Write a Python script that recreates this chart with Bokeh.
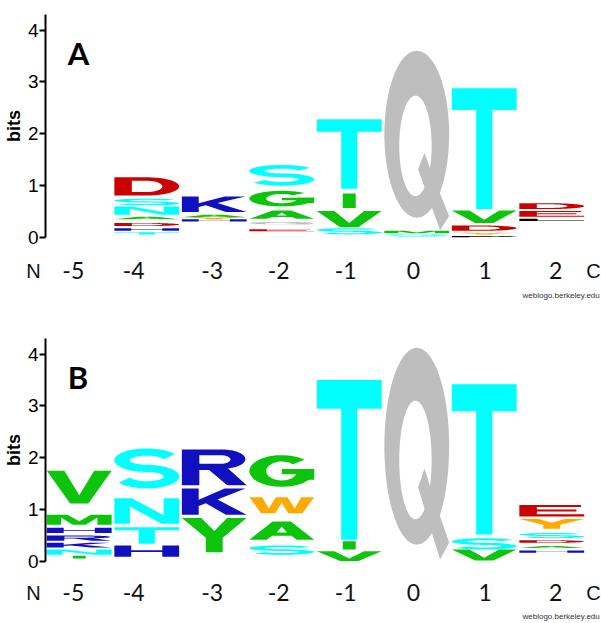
import numpy as np
from bokeh.plotting import figure
from bokeh.models import Range1d, FixedTicker, Label, ColumnDataSource
from bokeh.layouts import column
from bokeh.embed import file_html
from bokeh.resources import INLINE

# ---------------------------------------------------------------- data
positions = [-5, -4, -3, -2, -1, 0, 1, 2]
position_labels = ["-5", "-4", "-3", "-2", "-1", "0", "1", "2"]

# Each stack lists (residue, bits) from the bottom up; "" is the share of
# residues too small to be drawn.
stacks_a = [
    [],
    [("", 0.06), ("T", 0.04), ("", 0.03), ("H", 0.05), ("", 0.04), ("D", 0.06),
     ("", 0.07), ("A", 0.05), ("", 0.04), ("N", 0.16), ("", 0.02), ("S", 0.13),
     ("", 0.06), ("D", 0.35)],
    [("", 0.31), ("H", 0.04), ("Y", 0.04), ("A", 0.05), ("", 0.05), ("K", 0.30)],
    [("", 0.12), ("E", 0.04), ("", 0.09), ("Q", 0.05), ("", 0.06), ("A", 0.16),
     ("", 0.08), ("G", 0.30), ("", 0.10), ("S", 0.40)],
    [("", 0.06), ("S", 0.12), ("", 0.02), ("V", 0.31), ("", 0.06), ("I", 0.28),
     ("", 0.09), ("T", 1.34)],
    [("", 0.02), ("S", 0.04), ("", 0.02), ("M", 0.05), ("", 0.01), ("Q", 3.46)],
    [("P", 0.03), ("", 0.03), ("Y", 0.03), ("", 0.04), ("D", 0.10), ("", 0.05),
     ("V", 0.24), ("", 0.03), ("T", 2.33)],
    [("", 0.32), ("L", 0.04), ("", 0.04), ("E", 0.11), ("", 0.04), ("D", 0.11)],
]

stacks_b = [
    [("", 0.06), ("I", 0.05), ("", 0.02), ("N", 0.10), ("", 0.04), ("K", 0.09),
     ("", 0.04), ("R", 0.10), ("", 0.05), ("H", 0.10), ("", 0.06), ("M", 0.19),
     ("", 0.22), ("V", 0.63)],
    [("", 0.09), ("H", 0.22), ("", 0.03), ("T", 0.32), ("", 0.07), ("N", 0.49),
     ("", 0.19), ("S", 0.77)],
    [("", 0.18), ("Y", 0.66), ("", 0.06), ("K", 0.51), ("", 0.06), ("R", 0.69)],
    [("", 0.13), ("S", 0.18), ("", 0.11), ("A", 0.35), ("", 0.16), ("W", 0.31),
     ("", 0.20), ("G", 0.61)],
    [("", 0.01), ("V", 0.19), ("", 0.03), ("I", 0.16), ("", 0.03), ("T", 3.08)],
    [("", 0.04), ("Q", 4.08)],
    [("", 0.02), ("V", 0.21), ("S", 0.22), ("", 0.07), ("T", 2.90)],
    [("", 0.17), ("H", 0.04), ("", 0.05), ("A", 0.04), ("", 0.06), ("D", 0.05),
     ("", 0.04), ("S", 0.10), ("", 0.08), ("Y", 0.19), ("", 0.05), ("E", 0.22)],
]

# ---------------------------------------------------------------- colours
CYAN, GREEN, RED, BLUE = "#00FFFF", "#0CC40C", "#CC0000", "#1010C0"
GREY, ORANGE, BLACK = "#BEBEBE", "#FFAA00", "#000000"
COLORS = {
    "T": CYAN, "S": CYAN, "N": CYAN,
    "V": GREEN, "G": GREEN, "A": GREEN, "I": GREEN, "M": GREEN,
    "D": RED, "E": RED,
    "K": BLUE, "R": BLUE, "H": BLUE,
    "Q": GREY, "W": ORANGE, "Y": ORANGE, "P": BLACK, "L": BLACK,
}
PANEL_B_OVERRIDES = {(-3, "Y"): GREEN}


# ---------------------------------------------------------------- glyph outlines
# Every letter is a list of pieces; each piece is a list of rings
# (outer ring first, then holes), all inside the unit square. Pieces are
# filled separately so that overlapping ones do not cancel each other out.
def ring(points):
    xs, ys = zip(*points)
    return list(xs), list(ys)


def reverse(r):
    return r[0][::-1], r[1][::-1]


def arc(cx, cy, rx, ry, a0, a1, n=48):
    t = np.radians(np.linspace(a0, a1, n))
    return list(cx + rx * np.cos(t)), list(cy + ry * np.sin(t))


def stroke(xs, ys, hw, hh):
    x, y = np.asarray(xs), np.asarray(ys)
    dx, dy = np.gradient(x), np.gradient(y)
    ln = np.hypot(dx, dy)
    ln[ln == 0] = 1
    nx, ny = -dy / ln, dx / ln
    lx, ly = x + nx * hw, y + ny * hh
    rx, ry = x - nx * hw, y - ny * hh
    return list(lx) + list(rx[::-1]), list(ly) + list(ry[::-1])


def rect(x0, y0, x1, y1):
    return ring([(x0, y0), (x0, y1), (x1, y1), (x1, y0)])


def letter_s():
    w, h = 0.12, 0.09
    rx = 0.5 - w
    ux, uy = arc(0.5, 0.705, rx, 0.205, 25, 270)
    lx, ly = arc(0.5, 0.295, rx, 0.205, 90, -155)
    return [[stroke(ux[:-1] + lx, uy[:-1] + ly, w, h)]]


def letter_g():
    w, h = 0.13, 0.1
    cx, cy = arc(0.5, 0.5, 0.5 - w, 0.5 - h, 45, 360)
    return [[stroke(cx, cy, w, h)], [rect(0.5, 0.40, 1.0, 0.56)],
            [rect(0.74, 0.22, 1.0, 0.56)]]


def letter_d():
    ox, oy = arc(0.5, 0.5, 0.5, 0.5, 90, -90)
    hx, hy = arc(0.5, 0.5, 0.24, 0.31, 90, -90)
    outer = ([0.0, 0.0] + ox, [0.0, 1.0] + oy)
    hole = ([0.27, 0.27] + hx, [0.19, 0.81] + hy)
    return [[outer, reverse(hole)]]


def letter_p():
    ox, oy = arc(0.58, 0.7, 0.42, 0.3, 90, -90)
    hx, hy = arc(0.56, 0.705, 0.17, 0.135, 90, -90)
    outer = ([0.0, 0.0] + ox + [0.27, 0.27], [0.0, 1.0] + oy + [0.4, 0.0])
    hole = ([0.27, 0.27] + hx, [0.57, 0.84] + hy)
    return [[outer, reverse(hole)]]


def letter_r():
    ox, oy = arc(0.62, 0.73, 0.36, 0.27, 90, -75)
    hx, hy = arc(0.6, 0.72, 0.15, 0.12, 90, -90)
    outer = ([0.0, 0.0] + ox + [1.0, 0.7, 0.42, 0.27, 0.27],
             [0.0, 1.0] + oy + [0.0, 0.0, 0.43, 0.43, 0.0])
    hole = ([0.27, 0.27] + hx, [0.6, 0.84] + hy)
    return [[outer, reverse(hole)]]


def letter_q():
    ox, oy = arc(0.5, 0.535, 0.5, 0.465, 0, 360, 90)
    hx, hy = arc(0.48, 0.47, 0.25, 0.28, 360, 0, 90)
    tail = ring([(0.52, 0.34), (0.62, 0.43), (0.74, 0.31), (1.0, 0.08), (0.86, 0.0)])
    return [[(ox, oy), (hx, hy)], [tail]]


def letter_a():
    outer = ring([(0, 0), (0.36, 1), (0.64, 1), (1, 0), (0.73, 0), (0.65, 0.22),
                  (0.35, 0.22), (0.27, 0)])
    hole = ring([(0.42, 0.40), (0.5, 0.72), (0.58, 0.40)])
    return [[outer, reverse(hole)]]


SHAPES = {
    "T": [[ring([(0, 1), (1, 1), (1, 0.82), (0.625, 0.82), (0.625, 0), (0.375, 0),
                (0.375, 0.82), (0, 0.82)])]],
    "V": [[ring([(0, 1), (0.27, 1), (0.5, 0.25), (0.73, 1), (1, 1), (0.64, 0), (0.36, 0)])]],
    "I": [[rect(0.4, 0.0, 0.6, 1.0)]],
    "H": [[ring([(0, 0), (0, 1), (0.26, 1), (0.26, 0.58), (0.74, 0.58), (0.74, 1), (1, 1),
                 (1, 0), (0.74, 0), (0.74, 0.42), (0.26, 0.42), (0.26, 0)])]],
    "K": [[ring([(0, 0), (0, 1), (0.26, 1), (0.26, 0.57), (0.66, 1), (0.98, 1), (0.55, 0.58),
                 (1, 0), (0.68, 0), (0.37, 0.44), (0.26, 0.33), (0.26, 0)])]],
    "M": [[ring([(0, 0), (0, 1), (0.32, 1), (0.5, 0.35), (0.68, 1), (1, 1), (1, 0), (0.78, 0),
                 (0.78, 0.72), (0.6, 0), (0.4, 0), (0.22, 0.72), (0.22, 0)])]],
    "N": [[ring([(0, 0), (0, 1), (0.27, 1), (0.76, 0.33), (0.76, 1), (1, 1), (1, 0),
                 (0.73, 0), (0.24, 0.67), (0.24, 0)])]],
    "W": [[ring([(0, 1), (0.2, 1), (0.3, 0.3), (0.41, 1), (0.59, 1), (0.7, 0.3), (0.8, 1),
                 (1, 1), (0.82, 0), (0.6, 0), (0.5, 0.65), (0.4, 0), (0.18, 0)])]],
    "Y": [[ring([(0, 1), (0.3, 1), (0.5, 0.62), (0.7, 1), (1, 1), (0.63, 0.42), (0.63, 0),
                 (0.37, 0), (0.37, 0.42)])]],
    "E": [[ring([(0, 0), (0, 1), (0.95, 1), (0.95, 0.82), (0.27, 0.82), (0.27, 0.6),
                 (0.88, 0.6), (0.88, 0.42), (0.27, 0.42), (0.27, 0.18), (1, 0.18), (1, 0)])]],
    "L": [[ring([(0, 0), (0, 1), (0.28, 1), (0.28, 0.19), (1, 0.19), (1, 0)])]],
    "A": letter_a(),
    "S": letter_s(),
    "G": letter_g(),
    "D": letter_d(),
    "P": letter_p(),
    "R": letter_r(),
    "Q": letter_q(),
}

GLYPH_WIDTH = 0.96


def stack_source(stacks, overrides=None):
    overrides = overrides or {}
    xs, ys, colors = [], [], []
    for pos, stack in zip(positions, stacks):
        base = 0.0
        for letter, bits in stack:
            if letter:
                color = overrides.get((pos, letter), COLORS[letter])
                for piece in SHAPES[letter]:
                    xs.append([[list(pos - GLYPH_WIDTH / 2 + GLYPH_WIDTH * np.asarray(rx))
                                for rx, _ in piece]])
                    ys.append([[list(base + bits * np.asarray(ry)) for _, ry in piece]])
                    colors.append(color)
            base += bits
    return ColumnDataSource(dict(xs=xs, ys=ys, color=colors))


TICK_FONT = "Liberation Sans"
POS_FONT = "Lato"
PAGE_W = 601
LEFT, RIGHT = 43, 16
X_RANGE = (-5.5, 2.5)
COL_PX = (PAGE_W - LEFT - RIGHT) / (X_RANGE[1] - X_RANGE[0])

# where the hand-set position labels sit along the axis
label_x = [-5.06, -4.17, -3.01, -2.03, -1.04, -0.04, 1.02, 2.06]


def logo_panel(stacks, tag, overrides=None):
    p = figure(width=PAGE_W, height=247, output_backend="svg", toolbar_location=None,
               x_range=Range1d(*X_RANGE), y_range=Range1d(0, 4.3),
               x_axis_location=None, min_border_left=LEFT, min_border_right=RIGHT,
               min_border_top=14, min_border_bottom=10, frame_align=False)
    p.outline_line_color = None
    p.grid.visible = False

    ax = p.yaxis[0]
    ax.ticker = FixedTicker(ticks=[0, 1, 2, 3, 4])
    ax.major_tick_out = 6
    ax.major_tick_in = 0
    ax.minor_tick_out = 0
    ax.minor_tick_in = 0
    ax.axis_line_width = 2
    ax.major_tick_line_width = 2
    ax.major_label_text_font = TICK_FONT
    ax.major_label_text_font_size = "19px"
    ax.major_label_text_color = "black"
    ax.major_label_standoff = 1
    ax.axis_label = "bits"
    ax.axis_label_text_font = "Liberation Sans"
    ax.axis_label_text_font_style = "bold"
    ax.axis_label_text_font_size = "18px"
    ax.axis_label_text_color = "black"
    ax.axis_label_standoff = 1

    p.multi_polygons(xs="xs", ys="ys", fill_color="color", line_color=None,
                     source=stack_source(stacks, overrides))
    p.add_layout(Label(x=-5.17, y=3.56, text=tag, text_font=POS_FONT,
                       text_font_style="bold", text_font_size="31px",
                       text_baseline="alphabetic", text_color="black"))
    return p


def label_strip(height, label_y, credit_y):
    # the row of position labels under a logo, spanning the full page width
    lo = X_RANGE[0] - LEFT / COL_PX
    hi = X_RANGE[1] + RIGHT / COL_PX
    p = figure(width=PAGE_W, height=height, output_backend="svg", toolbar_location=None,
               x_range=Range1d(lo, hi), y_range=Range1d(height, 0),
               x_axis_location=None, y_axis_location=None, min_border=0,
               frame_align=False)
    p.outline_line_color = None
    p.grid.visible = False
    p.text(x=label_x, y=[label_y] * len(label_x), text=position_labels,
           text_font={"value": POS_FONT}, text_font_size="23px",
           text_align="center", text_baseline="middle", text_color="#111111")
    p.text(x=[X_RANGE[0] - 10 / COL_PX, X_RANGE[1] + 8 / COL_PX], y=[label_y, label_y],
           text=["N", "C"], text_font={"value": TICK_FONT}, text_font_size="20px",
           text_align="center", text_baseline="middle", text_color="#111111")
    p.text(x=[X_RANGE[1] - 63 / COL_PX], y=[credit_y], text=["weblogo.berkeley.edu"],
           text_font={"value": TICK_FONT}, text_font_size="8px",
           text_baseline="middle", text_color="#333333")
    return p


pa = logo_panel(stacks_a, "A")
la = label_strip(77, 23, 48)
pb = logo_panel(stacks_b, "B", PANEL_B_OVERRIDES)
lb = label_strip(52, 21, 45)

layout = column(pa, la, pb, lb, spacing=0)
open("out.html", "w").write(file_html(layout, INLINE))
